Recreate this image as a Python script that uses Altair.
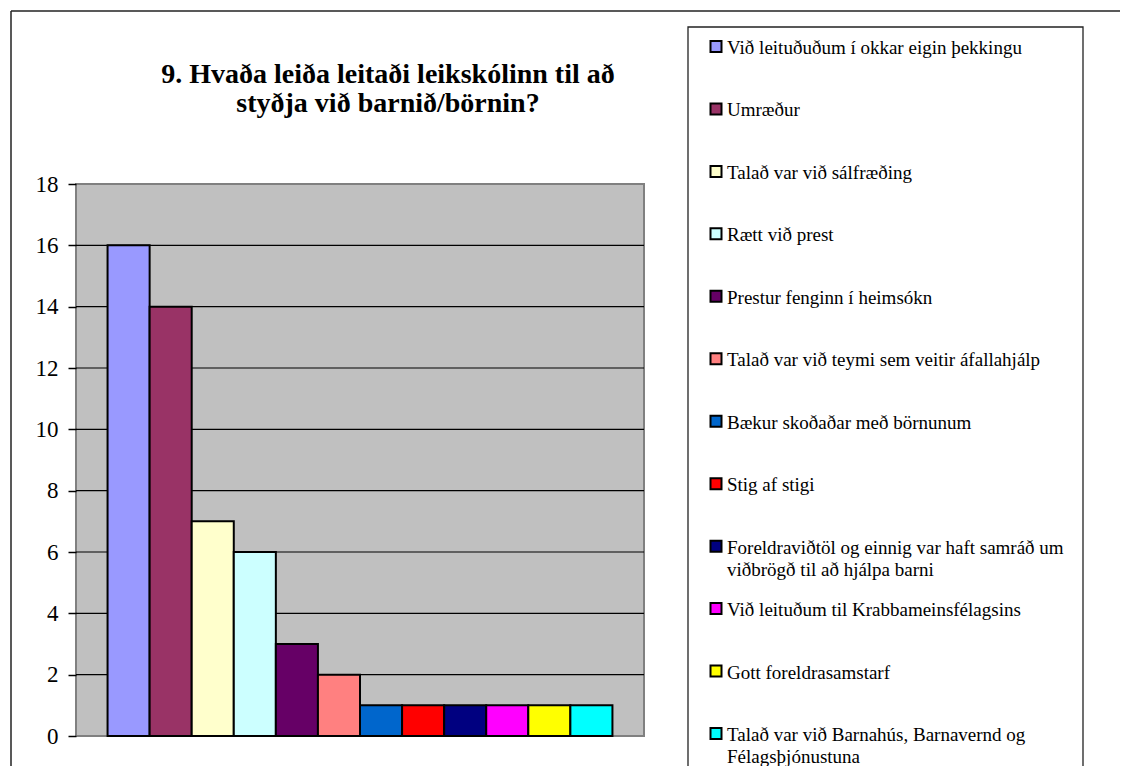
import altair as alt
import pandas as pd

# ---- data ----
categories = [
    "Við leituðuðum í okkar eigin þekkingu",
    "Umræður",
    "Talað var við sálfræðing",
    "Rætt við prest",
    "Prestur fenginn í heimsókn",
    "Talað var við teymi sem veitir áfallahjálp",
    "Bækur skoðaðar með börnunum",
    "Stig af stigi",
    "Foreldraviðtöl og einnig var haft samráð um viðbrögð til að hjálpa barni",
    "Við leituðum til Krabbameinsfélagsins",
    "Gott foreldrasamstarf",
    "Talað var við Barnahús, Barnavernd og Félagsþjónustuna",
]
legend_labels = [
    "Við leituðuðum í okkar eigin þekkingu",
    "Umræður",
    "Talað var við sálfræðing",
    "Rætt við prest",
    "Prestur fenginn í heimsókn",
    "Talað var við teymi sem veitir áfallahjálp",
    "Bækur skoðaðar með börnunum",
    "Stig af stigi",
    "Foreldraviðtöl og einnig var haft samráð um\nviðbrögð til að hjálpa barni",
    "Við leituðum til Krabbameinsfélagsins",
    "Gott foreldrasamstarf",
    "Talað var við Barnahús, Barnavernd og\nFélagsþjónustuna",
]
values = [16, 14, 7, 6, 3, 2, 1, 1, 1, 1, 1, 1]
colors = ["#9999FF", "#993366", "#FFFFCC", "#CCFFFF", "#660066", "#FF8080",
          "#0066CC", "#FF0000", "#000080", "#FF00FF", "#FFFF00", "#00FFFF"]
y_ticks = [0, 2, 4, 6, 8, 10, 12, 14, 16, 18]
grid_values = [2, 4, 6, 8, 10, 12, 14, 16]
title_lines = ["9. Hvaða leiða leitaði leikskólinn til að", "styðja við barnið/börnin?"]

W, H = 568, 552
FONT = "Liberation Serif"
PAD_BOTTOM = 30
PAD_RIGHT = 476

df = pd.DataFrame({"cat": categories, "label": legend_labels, "value": values})
deco = pd.DataFrame({"k": [0]})

color = alt.Color("cat:N", scale=alt.Scale(domain=categories, range=colors), legend=None)

bars = alt.Chart(df).mark_bar(stroke="black", strokeWidth=2).encode(
    x=alt.X("cat:N", sort=categories,
            scale=alt.Scale(paddingInner=0, paddingOuter=0.75), axis=None),
    y=alt.Y("value:Q", scale=alt.Scale(domain=[0, 18], nice=False),
            axis=alt.Axis(values=y_ticks, grid=False, domain=False, ticks=True,
                          tickColor="black", tickSize=8, tickWidth=1.5,
                          labelFont=FONT, labelFontSize=23, labelColor="black",
                          labelPadding=10, title=None)),
    color=color,
)

grid = alt.Chart(pd.DataFrame({"g": grid_values})).mark_rule(
    color="black", strokeWidth=1.2
).encode(
    y=alt.Y("g:Q", scale=alt.Scale(domain=[0, 18], nice=False), axis=None)
)

outer_top = alt.Chart(deco).mark_rule(color="#222222", strokeWidth=1.5).encode(
    x=alt.value(-65), x2=alt.value(W + PAD_RIGHT + 2), y=alt.value(-173)
)
outer_left = alt.Chart(deco).mark_rule(color="#222222", strokeWidth=1.5).encode(
    x=alt.value(-65), y=alt.value(-173), y2=alt.value(H + PAD_BOTTOM + 2)
)
legend_box = alt.Chart(deco).mark_rect(
    fill="white", stroke="#222222", strokeWidth=1.3
).encode(
    x=alt.value(612), x2=alt.value(1007), y=alt.value(-157),
    y2=alt.value(H + PAD_BOTTOM + 6)
)

leg_y = alt.Y("cat:N", sort=categories,
              scale=alt.Scale(type="point", domain=categories,
                              range=[-137.5, 549.5], padding=0),
              axis=None)

swatches = alt.Chart(df).mark_square(
    size=121, stroke="black", strokeWidth=2, opacity=1, filled=True
).encode(x=alt.value(640), y=leg_y, color=color)

labels = alt.Chart(df).mark_text(
    align="left", baseline="alphabetic", dy=7.5, font=FONT, fontSize=19,
    lineBreak="\n", lineHeight=22, color="black"
).encode(x=alt.value(651), y=leg_y, text="label:N")

title = alt.Chart(deco).mark_text(
    font=FONT, fontSize=28, fontWeight="bold", align="center",
    baseline="alphabetic", lineHeight=29, color="black"
).encode(x=alt.value(312), y=alt.value(-101), text=alt.value(title_lines))

chart = alt.layer(
    outer_top, outer_left, legend_box, grid, bars, swatches, labels, title
).resolve_scale(
    y="independent", x="independent"
).properties(
    width=W, height=H,
    padding={"left": 68, "top": 176, "right": PAD_RIGHT, "bottom": PAD_BOTTOM},
    autosize=alt.AutoSizeParams(type="none"),
).configure_view(
    fill="#C0C0C0", stroke="#808080", strokeWidth=2
)

chart.save("out.html", embed_options={"renderer": "svg", "actions": False})
